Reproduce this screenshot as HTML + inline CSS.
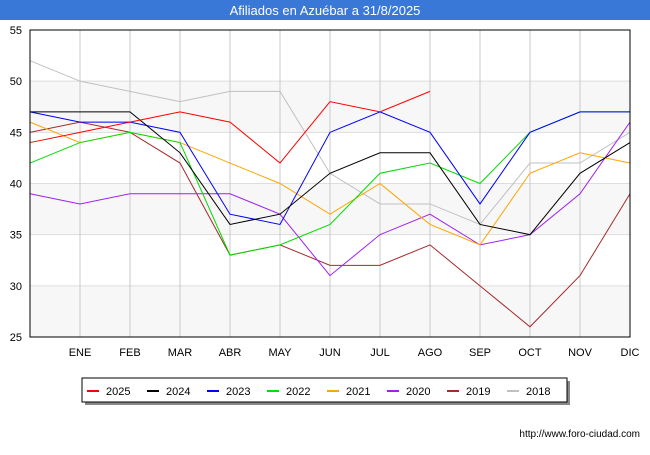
<!DOCTYPE html>
<html><head><meta charset="utf-8"><style>
body{margin:0;width:650px;height:450px;background:#fff;font-family:"Liberation Sans",sans-serif;overflow:hidden}
</style></head><body>
<svg width="650" height="450" xmlns="http://www.w3.org/2000/svg">
<rect x="0" y="0" width="650" height="20" fill="#3a78d8"/>
<text x="325" y="15" font-size="13" fill="#fff" text-anchor="middle">Afiliados en Azuébar a 31/8/2025</text>
<g id="bands"></g><g id="grid"></g><g id="series"></g><g id="axes"></g>
<rect x="30" y="30" width="600" height="307" fill="none" stroke="#000"/>
<rect x="85" y="381" width="485" height="24" fill="#888"/>
<rect x="82" y="378" width="485" height="24" fill="#fff" stroke="#000"/>
<g id="legend"></g>
<text x="640" y="437" font-size="10" text-anchor="end" fill="#000">http://www.foro-ciudad.com</text>
</svg>
<script>
const months=["","ENE","FEB","MAR","ABR","MAY","JUN","JUL","AGO","SEP","OCT","NOV","DIC"];
const yTicks=[25,30,35,40,45,50,55];
const years=["2025","2024","2023","2022","2021","2020","2019","2018"];
const colors=["#ff0000","#000000","#0000ff","#00dd00","#ffa500","#a020f0","#a52a2a","#c0c0c0"];
const s2025=[44,45,46,47,46,42,48,47,49];
const s2024=[47,47,47,43,36,37,41,43,43,36,35,41,44];
const s2023=[47,46,46,45,37,36,45,47,45,38,45,47,47];
const s2022=[42,44,45,44,33,34,36,41,42,40,45,47,47];
const s2021=[46,44,45,44,42,40,37,40,36,34,41,43,42];
const s2020=[39,38,39,39,39,37,31,35,37,34,35,39,46];
const s2019=[45,46,45,42,33,34,32,32,34,30,26,31,39];
const s2018=[52,50,49,48,49,49,41,38,38,36,42,42,45];
const allSeries=[s2025,s2024,s2023,s2022,s2021,s2020,s2019,s2018];
const NS="http://www.w3.org/2000/svg";
const X=i=>30+i*50, Y=v=>337-(v-25)*307/30;
function mk(p,t,a){const e=document.createElementNS(NS,t);for(const k in a)e.setAttribute(k,a[k]);document.getElementById(p).appendChild(e);return e;}
for(let i=0;i<yTicks.length-1;i++){if(i%2==0){const r=mk("bands","rect",{x:30,y:Y(yTicks[i+1]),width:600,height:Y(yTicks[i])-Y(yTicks[i+1]),fill:"#f7f7f7"});

}}
yTicks.forEach(v=>{const l=mk("grid","line",{x1:30,x2:630,y1:Y(v),y2:Y(v),stroke:"#ddd"});


const t=mk("axes","text",{x:22,y:Y(v)+4,"font-size":11,"text-anchor":"end"});t.textContent=v;

});
months.forEach((m,i)=>{if(i>0){const l=mk("grid","line",{x1:X(i),x2:X(i),y1:30,y2:337,stroke:"#c8c8c8"});


const t=mk("axes","text",{x:X(i),y:356,"font-size":11,"text-anchor":"middle"});t.textContent=m;

}});
for(let k=allSeries.length-1;k>=0;k--){const p=mk("series","polyline",{points:allSeries[k].map((v,i)=>X(i)+","+Y(v)).join(" "),fill:"none",stroke:colors[k],"stroke-width":1});

}
years.forEach((y,k)=>{const x0=87+k*60;const l=mk("legend","line",{x1:x0,x2:x0+12,y1:391,y2:391,stroke:colors[k],"stroke-width":2});


const t=mk("legend","text",{x:x0+19,y:395,"font-size":11});t.textContent=y;

});
</script>
</body></html>
